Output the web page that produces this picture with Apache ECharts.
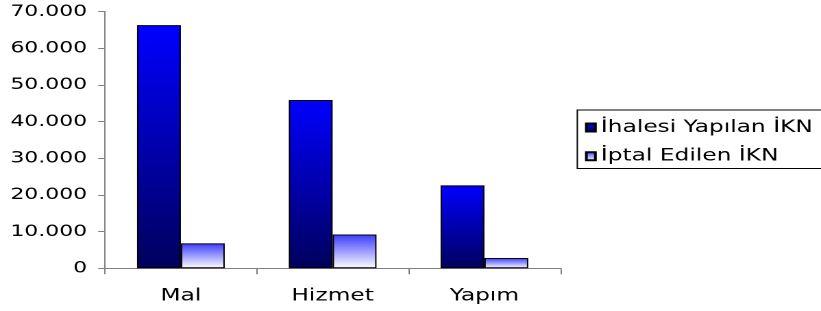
<!DOCTYPE html>
<html>
<head>
<meta charset="utf-8">
<script src="https://cdn.jsdelivr.net/npm/echarts@6/dist/echarts.min.js"></script>
<style>
  html, body { margin: 0; padding: 0; background: #fff; overflow: hidden; }
  /* the reference is stretched horizontally, so draw narrow and widen */
  #chart { width: 599px; height: 311px; transform: scaleX(1.3706); transform-origin: 0 0; }
</style>
</head>
<body>
<div id="chart"></div>
<script>
'use strict'
var categories = ['Mal', 'Hizmet', 'Yapım']
var ihaleValues = [66300, 45900, 22600]
var iptalValues = [6800, 9200, 2800]
var seriesNames = ['İhalesi Yapılan İKN', 'İptal Edilen İKN']

var FONT = 'DejaVu Sans'

function dotted(v) {
  return String(v).replace(/\B(?=(\d{3})+(?!\d))/g, '.')
}

var darkFill = new echarts.graphic.LinearGradient(0, 0, 0, 1, [
  { offset: 0, color: '#0000ff' },
  { offset: 1, color: '#00005c' }
])
var lightFill = new echarts.graphic.LinearGradient(0, 0, 0, 1, [
  { offset: 0, color: '#3c3cff' },
  { offset: 1, color: '#ffffff' }
])

var chart = echarts.init(document.getElementById('chart'), null, {
  renderer: 'canvas',
  devicePixelRatio: 2
})

chart.setOption({
  animation: false,
  backgroundColor: '#ffffff',
  grid: {
    left: 76.6,
    right: 190.2,
    top: 11.6,
    bottom: 42.7,
    containLabel: false
  },
  legend: {
    orient: 'vertical',
    left: 421.2,
    top: 110,
    padding: [7.5, 30, 2.3, 5.6],
    itemWidth: 6.6,
    itemHeight: 8,
    itemGap: 8.7,
    borderColor: '#000000',
    borderWidth: 1,
    icon: 'rect',
    textStyle: {
      fontFamily: FONT,
      fontSize: 17,
      lineHeight: 20,
      color: '#000000',
      padding: [0, 0, 0, -1]
    },
    data: seriesNames
  },
  xAxis: {
    type: 'category',
    data: categories,
    axisLine: { lineStyle: { color: '#808080', width: 1 } },
    axisTick: { show: true, alignWithLabel: false, length: 6, lineStyle: { color: '#808080' } },
    axisLabel: {
      fontFamily: FONT,
      fontSize: 17,
      color: '#000000',
      margin: 19.5
    },
    splitLine: { show: false }
  },
  yAxis: {
    type: 'value',
    min: 0,
    max: 70000,
    interval: 10000,
    axisLine: { show: true, lineStyle: { color: '#808080', width: 1 } },
    axisTick: { show: true, length: 5, lineStyle: { color: '#808080' } },
    axisLabel: {
      fontFamily: FONT,
      fontSize: 16,
      color: '#000000',
      margin: 13,
      formatter: dotted
    },
    splitLine: { show: false }
  },
  series: [
    {
      name: seriesNames[0],
      type: 'bar',
      data: ihaleValues,
      barWidth: 32,
      barGap: '0%',
      itemStyle: { color: darkFill, borderColor: '#000000', borderWidth: 1 }
    },
    {
      name: seriesNames[1],
      type: 'bar',
      data: iptalValues,
      barWidth: 32,
      barGap: '0%',
      itemStyle: { color: lightFill, borderColor: '#000000', borderWidth: 1 }
    }
  ]
})
</script>
</body>
</html>
